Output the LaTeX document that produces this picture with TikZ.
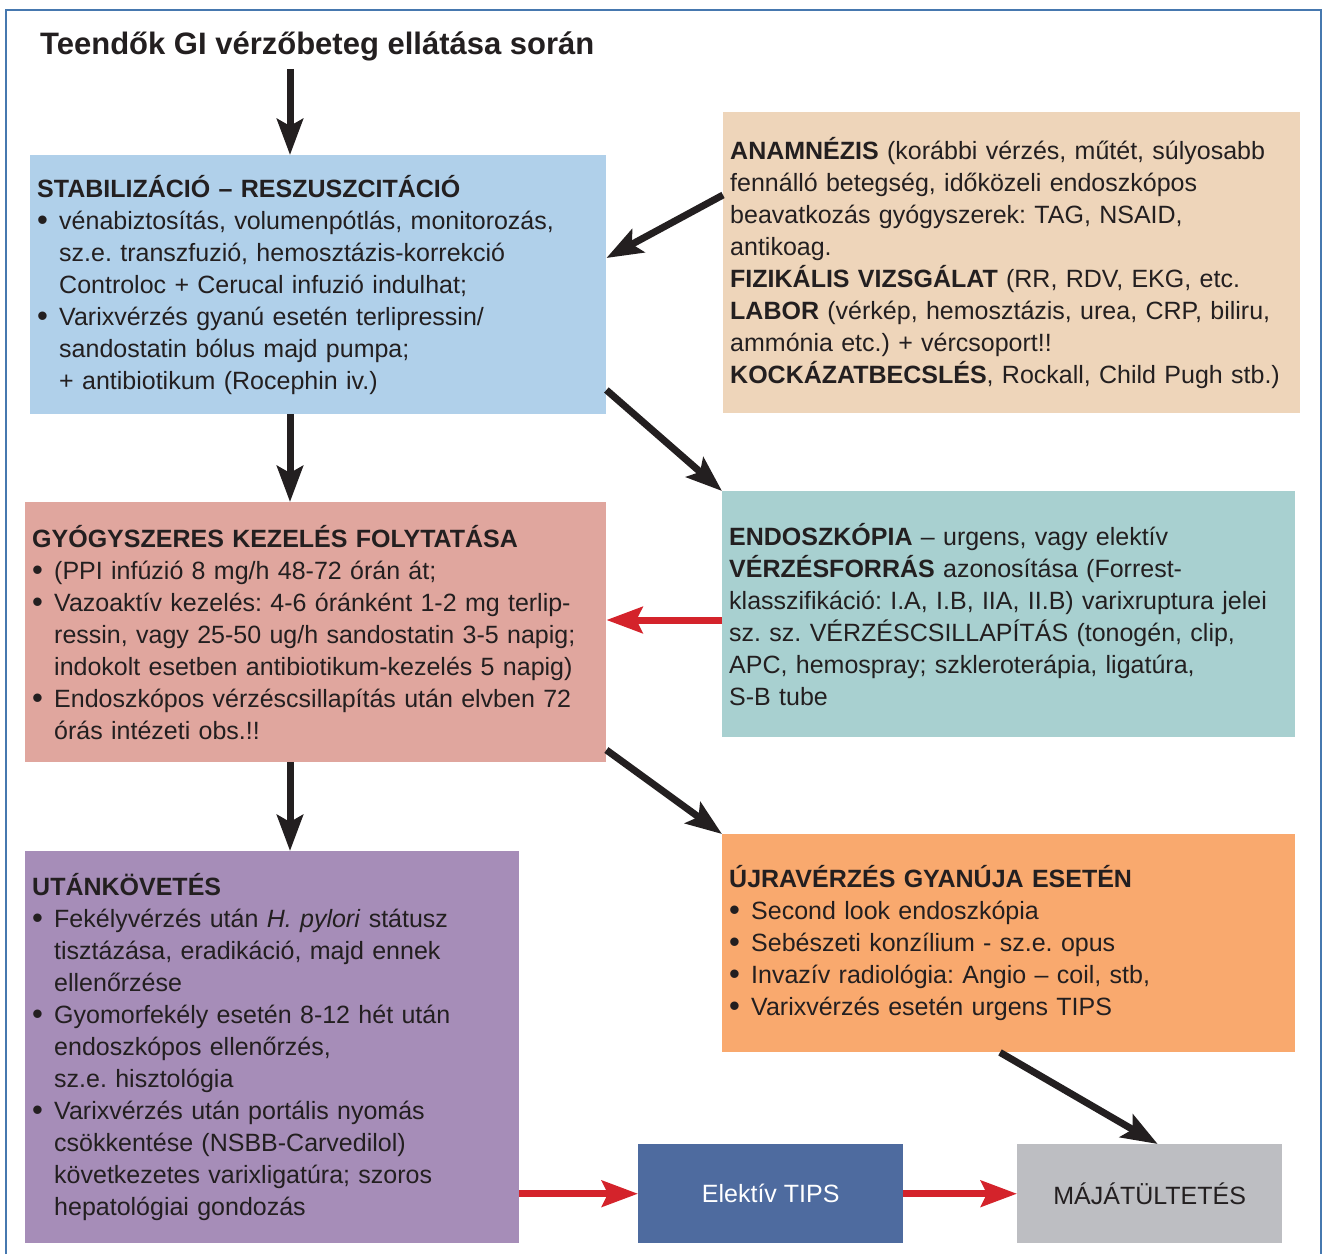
\documentclass[tikz,border=0pt]{standalone}
\usepackage{fontspec}
\setmainfont{Liberation Sans}
\usetikzlibrary{arrows.meta, positioning}
\definecolor{ink}{RGB}{35,31,32}
\definecolor{frameblue}{RGB}{70,120,175}
\definecolor{stabblue}{RGB}{176,208,234}
\definecolor{anamtan}{RGB}{238,213,186}
\definecolor{gyogyred}{RGB}{224,166,158}
\definecolor{endoteal}{RGB}{168,208,208}
\definecolor{utanlila}{RGB}{166,141,184}
\definecolor{ujraorange}{RGB}{249,169,110}
\definecolor{tipsblue}{RGB}{78,107,159}
\definecolor{majgrey}{RGB}{189,190,194}
\definecolor{arrowred}{RGB}{212,35,43}
\frenchspacing
\newcommand{\bul}{\makebox[22pt][l]{\raisebox{-1pt}{\fontsize{31}{32}\selectfont\textbullet}}}
\newcommand{\ind}{\hspace*{22pt}}
\tikzset{
	block/.style={anchor=north west, inner xsep=7pt, inner ysep=0pt, align=left, text=ink, font=\fontsize{25}{32}\selectfont},
	endbox/.style={anchor=north west, inner sep=0pt, align=center, font=\fontsize{25}{32}\selectfont},
	blk/.style={-{Stealth[length=36pt, width=26pt, inset=7pt]}, line width=7pt, draw=ink},
	redarrow/.style={-{Stealth[length=36pt, width=26pt, inset=6pt]}, line width=7pt, draw=arrowred},
	frame/.style={draw=frameblue, line width=1.5pt}
}

\begin{document}
\begin{tikzpicture}[x=1pt, y=-1pt]
	\useasboundingbox (0,0) rectangle (1324,1254);
	\draw[frame] (6,1254) -- (6,10) -- (1321,10) -- (1321,1254);

	\node[anchor=base west, inner sep=0pt, text=ink, font=\fontsize{31}{36}\selectfont\bfseries] (title) at (40,54) {Teendők GI vérzőbeteg ellátása során};

	\node[block, fill=stabblue, text width=562pt, minimum height=259pt] (stab) at (30,155) {%
		\textbf{STABILIZÁCIÓ – RESZUSZCITÁCIÓ}\\
		\bul vénabiztosítás, volumenpótlás, monitorozás,\\
		\ind sz.e. transzfuzió, hemosztázis-korrekció\\
		\ind Controloc + Cerucal infuzió indulhat;\\
		\bul Varixvérzés gyanú esetén terlipressin/\\
		\ind sandostatin bólus majd pumpa;\\
		\ind + antibiotikum (Rocephin iv.)};

	\node[block, fill=anamtan, text width=563pt, minimum height=301pt] (anam) at (723,112) {%
		\textbf{ANAMNÉZIS} (korábbi vérzés, műtét, súlyosabb\\
		fennálló betegség, időközeli endoszkópos\\
		beavatkozás gyógyszerek: TAG, NSAID,\\
		antikoag.\\
		\textbf{FIZIKÁLIS VIZSGÁLAT} (RR, RDV, EKG, etc.\\
		\textbf{LABOR} (vérkép, hemosztázis, urea, CRP, biliru,\\
		ammónia etc.) + vércsoport!!\\
		\textbf{KOCKÁZATBECSLÉS}, Rockall, Child Pugh stb.)};

	\node[block, fill=gyogyred, text width=567pt, minimum height=260pt] (gyogy) at (25,502) {%
		\textbf{GYÓGYSZERES KEZELÉS FOLYTATÁSA}\\
		\bul (PPI infúzió 8 mg/h 48-72 órán át;\\
		\bul Vazoaktív kezelés: 4-6 óránként 1-2 mg terlip-\\
		\ind ressin, vagy 25-50 ug/h sandostatin 3-5 napig;\\
		\ind indokolt esetben antibiotikum-kezelés 5 napig)\\
		\bul Endoszkópos vérzéscsillapítás után elvben 72\\
		\ind órás intézeti obs.!!};

	\node[block, fill=endoteal, text width=559pt, minimum height=246pt] (endo) at (722,491) {%
		\textbf{ENDOSZKÓPIA} – urgens, vagy elektív\\
		\textbf{VÉRZÉSFORRÁS} azonosítása (Forrest-\\
		klasszifikáció: I.A, I.B, IIA, II.B) varixruptura jelei\\
		sz. sz. VÉRZÉSCSILLAPÍTÁS (tonogén, clip,\\
		APC, hemospray; szkleroterápia, ligatúra,\\
		S-B tube};

	\node[block, fill=utanlila, text width=480pt, minimum height=392pt] (utan) at (25,851) {%
		\textbf{UTÁNKÖVETÉS}\\
		\bul Fekélyvérzés után \textit{H. pylori} státusz\\
		\ind tisztázása, eradikáció, majd ennek\\
		\ind ellenőrzése\\
		\bul Gyomorfekély esetén 8-12 hét után\\
		\ind endoszkópos ellenőrzés,\\
		\ind sz.e. hisztológia\\
		\bul Varixvérzés után portális nyomás\\
		\ind csökkentése (NSBB-Carvedilol)\\
		\ind következetes varixligatúra; szoros\\
		\ind hepatológiai gondozás};

	\node[block, fill=ujraorange, text width=559pt, minimum height=218pt] (ujra) at (722,834) {%
		\textbf{ÚJRAVÉRZÉS GYANÚJA ESETÉN}\\
		\bul Second look endoszkópia\\
		\bul Sebészeti konzílium - sz.e. opus\\
		\bul Invazív radiológia: Angio – coil, stb,\\
		\bul Varixvérzés esetén urgens TIPS};

	\node[endbox, fill=tipsblue, text=white, minimum width=265pt, minimum height=99pt] (tips) at (638,1144) {Elektív TIPS};
	\node[endbox, fill=majgrey, text=ink, minimum width=265pt, minimum height=99pt] (maj) at (1017,1144) {MÁJÁTÜLTETÉS};

	% fekete nyilak
	\draw[blk] (title.south -| 290,0) ++(0,8) -- (290,0 |- stab.north);
	\draw[blk] (stab.south -| 290,0) -- (290,0 |- gyogy.north);
	\draw[blk] (gyogy.south -| 290,0) -- (290,0 |- utan.north);
	\draw[blk] (anam.west |- 0,195) -- (stab.east |- 0,258);
	\draw[blk] (stab.east |- 0,390) -- (endo.north west);
	\draw[blk] (gyogy.east |- 0,750) -- (ujra.north west);
	\draw[blk] (ujra.south -| 1000,0) -- ([xshift=8pt]maj.north);

	% piros nyilak
	\draw[redarrow] (endo.west |- 0,620) -- (gyogy.east |- 0,620);
	\draw[redarrow] (utan.east |- tips.west) -- (tips.west);
	\draw[redarrow] (tips.east) -- (maj.west);
\end{tikzpicture}
\end{document}
